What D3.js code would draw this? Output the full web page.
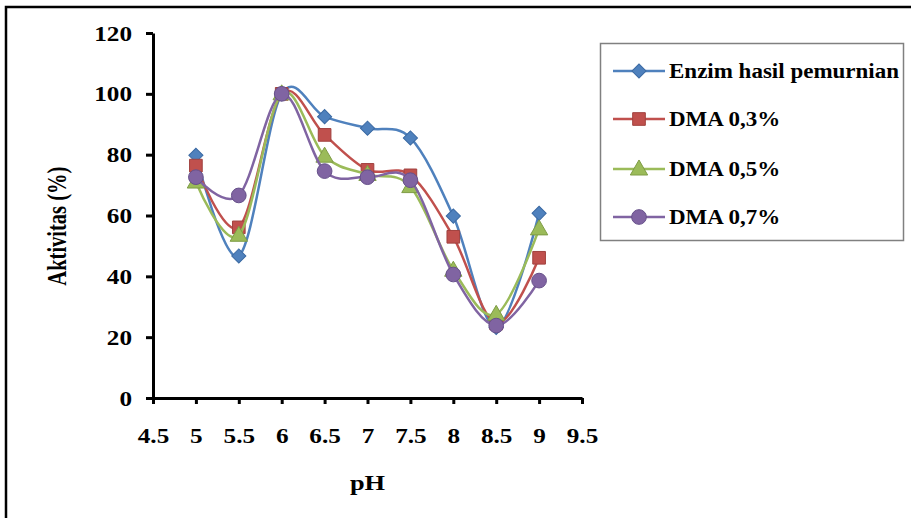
<!DOCTYPE html>
<html>
<head>
<meta charset="utf-8">
<script src="https://cdn.jsdelivr.net/npm/d3@7"></script>
<style>
  body { margin: 0; background: #fff; }
  text { font-family: "Liberation Serif", "Times New Roman", serif; font-weight: bold; fill: #000; }
</style>
</head>
<body>
<div id="chart"></div>
<script>
// Data
const phValues = [5, 5.5, 6, 6.5, 7, 7.5, 8, 8.5, 9]
const xTicks = [4.5, 5, 5.5, 6, 6.5, 7, 7.5, 8, 8.5, 9, 9.5]
const yTicks = [0, 20, 40, 60, 80, 100, 120]
const seriesNames = ["Enzim hasil pemurnian", "DMA 0,3%", "DMA 0,5%", "DMA 0,7%"]
const enzim = [79.8, 46.7, 100, 92.5, 88.7, 85.5, 59.8, 23.2, 60.7]
const dma03 = [76.4, 56.1, 100, 86.5, 75, 73.2, 53, 24.5, 46.1]
const dma05 = [71, 53.5, 100, 79.5, 73.5, 69.5, 42, 27.5, 55.6]
const dma07 = [72.6, 66.6, 100, 74.6, 72.6, 71.6, 40.6, 23.8, 38.6]
const seriesColors = ["#4F81BD", "#C0504D", "#9BBB59", "#8064A2"]
const seriesStroke = ["#3B6AA3", "#A0413E", "#7E9C45", "#66508A"]
const seriesSymbols = [d3.symbolSquare, d3.symbolSquare, d3.symbolTriangle, d3.symbolCircle]
const symbolSizes = [100, 160, 130, 170]
const symbolRotate = [45, 0, 0, 0]

const width = 911, height = 518
const margin = { left: 153, right: 329, top: 33, bottom: 120 }
const stretch = 1.2 // the picture's text is a bit wider than tall

const svg = d3.select("#chart").append("svg")
	.attr("width", width)
	.attr("height", height)

// outer frame (only top and left edges are in view)
svg.append("path")
	.attr("d", `M6,${height}V7H${width}`)
	.attr("fill", "none")
	.attr("stroke", "#000")
	.attr("stroke-width", 2.5)

const xScale = d3.scaleLinear()
	.domain([4.5, 9.5])
	.range([margin.left, width - margin.right])

const yScale = d3.scaleLinear()
	.domain([0, 120])
	.range([height - margin.bottom, margin.top])

// Axes
const yAxis = svg.append("g")
	.attr("transform", `translate(${margin.left},0)`)
	.call(d3.axisLeft(yScale).tickValues(yTicks).tickSize(7).tickSizeOuter(0))
yAxis.select(".domain").attr("stroke-width", 3)
yAxis.selectAll(".tick line").attr("stroke-width", 3)
yAxis.selectAll("text")
	.attr("x", 0)
	.attr("dy", "0.34em")
	.attr("font-size", "21px")
	.attr("transform", `translate(-21,0) scale(${stretch},1)`)

const xAxis = svg.append("g")
	.attr("transform", `translate(0,${yScale(0)})`)
	.call(d3.axisBottom(xScale).tickValues(xTicks).tickSize(6).tickSizeOuter(0).tickFormat(d3.format("")))
xAxis.select(".domain").attr("stroke-width", 3)
xAxis.selectAll(".tick line").attr("stroke-width", 3)
xAxis.selectAll("text")
	.attr("y", 0)
	.attr("dy", 0)
	.attr("font-size", "21px")
	.attr("transform", `translate(0,45) scale(${stretch},1)`)

// Axis titles
svg.append("text")
	.attr("transform", `translate(${(margin.left + width - margin.right) / 2},490) scale(${stretch},1)`)
	.attr("text-anchor", "middle")
	.attr("font-size", "22px")
	.text("pH")

svg.append("text")
	.attr("transform", `translate(66,${yScale(56.5)}) rotate(-90) scale(1,1.3)`)
	.attr("text-anchor", "middle")
	.attr("font-size", "20.5px")
	.text("Aktivitas (%)")

// Series
const allSeries = [enzim, dma03, dma05, dma07]
const line = d3.line()
	.x((d, i) => xScale(phValues[i]))
	.y((d) => yScale(d))
	.curve(d3.curveCatmullRom.alpha(0))

allSeries.forEach((vals, s) => {
	const g = svg.append("g")
	g.append("path")
		.attr("d", line(vals))
		.attr("fill", "none")
		.attr("stroke", seriesColors[s])
		.attr("stroke-width", 2.5)
	g.selectAll("path.mark")
		.data(vals)
		.join("path")
		.attr("class", "mark")
		.attr("transform", (d, i) => `translate(${xScale(phValues[i])},${yScale(d) + (s === 2 ? 1 : 0)}) rotate(${symbolRotate[s]})`)
		.attr("d", d3.symbol().type(seriesSymbols[s]).size(symbolSizes[s]))
		.attr("fill", seriesColors[s])
		.attr("stroke", seriesStroke[s])
		.attr("stroke-width", 1)
})

// Legend
const legend = svg.append("g")
legend.append("rect")
	.attr("x", 600.5)
	.attr("y", 43.5)
	.attr("width", 303)
	.attr("height", 197)
	.attr("fill", "#fff")
	.attr("stroke", "#808080")
	.attr("stroke-width", 1.5)

const legendY = [71, 119, 169, 217]
seriesNames.forEach((name, s) => {
	const row = legend.append("g").attr("transform", `translate(0,${legendY[s]})`)
	row.append("line")
		.attr("x1", 613).attr("x2", 665)
		.attr("stroke", seriesColors[s])
		.attr("stroke-width", 2.5)
	row.append("path")
		.attr("transform", `translate(639,${s === 2 ? 1 : 0}) rotate(${symbolRotate[s]})`)
		.attr("d", d3.symbol().type(seriesSymbols[s]).size(symbolSizes[s]))
		.attr("fill", seriesColors[s])
		.attr("stroke", seriesStroke[s])
		.attr("stroke-width", 1)
	row.append("text")
		.attr("transform", `translate(669,7) scale(1.15,1)`)
		.attr("font-size", "20px")
		.text(name)
})
</script>
</body>
</html>
